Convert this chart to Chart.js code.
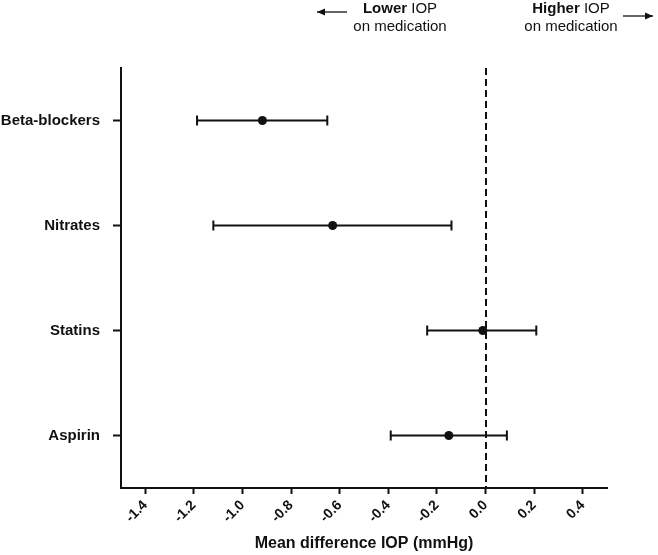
<!DOCTYPE html>
<html><head><meta charset="utf-8">
<script src="https://cdn.jsdelivr.net/npm/chart.js@4/dist/chart.umd.min.js"></script>
<style>html,body{margin:0;padding:0;background:#fff}#wrap{width:658px;height:555px;position:relative}</style>
</head><body><div id="wrap"><canvas id="c" width="658" height="555"></canvas></div>
<script>
const categories = ["Beta-blockers", "Nitrates", "Statins", "Aspirin"];
const meanDiff = [-0.918, -0.629, -0.011, -0.151];
const ciLower = [-1.187, -1.12, -0.24, -0.39];
const ciUpper = [-0.651, -0.14, 0.209, 0.088];
const xTicks = [-1.4, -1.2, -1.0, -0.8, -0.6, -0.4, -0.2, 0.0, 0.2, 0.4];

const FONT = "'Liberation Sans', Arial, sans-serif";

const errorBars = {
  id: 'errorBars',
  afterDatasetsDraw(chart) {
    const ctx = chart.ctx, xs = chart.scales.x, ys = chart.scales.y, a = chart.chartArea;
    ctx.save();
    ctx.strokeStyle = '#111'; ctx.lineWidth = 2; ctx.setLineDash([7, 4]);
    const x0 = Math.round(xs.getPixelForValue(0));
    ctx.beginPath(); ctx.moveTo(x0, a.top); ctx.lineTo(x0, a.bottom); ctx.stroke();
    ctx.setLineDash([]);
    categories.forEach((c, i) => {
      const y = ys.getPixelForValue(i + 1);
      const xl = xs.getPixelForValue(ciLower[i]), xr = xs.getPixelForValue(ciUpper[i]);
      ctx.beginPath();
      ctx.moveTo(xl, y); ctx.lineTo(xr, y);
      ctx.moveTo(xl, y - 5); ctx.lineTo(xl, y + 5);
      ctx.moveTo(xr, y - 5); ctx.lineTo(xr, y + 5);
      ctx.stroke();
      ctx.fillStyle = '#111';
      ctx.beginPath(); ctx.arc(xs.getPixelForValue(meanDiff[i]), y, 4.5, 0, Math.PI * 2); ctx.fill();
    });
    ctx.restore();
  },
  afterDraw(chart) {
    const ctx = chart.ctx;
    ctx.save();
    ctx.fillStyle = '#111'; ctx.strokeStyle = '#111'; ctx.textBaseline = 'alphabetic';
    function mixed(cx, y, bold, normal) {
      ctx.font = "bold 15px " + FONT; const w1 = ctx.measureText(bold + ' ').width;
      ctx.font = "15px " + FONT; const w2 = ctx.measureText(normal).width;
      let x = cx - (w1 + w2) / 2;
      ctx.textAlign = 'left';
      ctx.font = "bold 15px " + FONT; ctx.fillText(bold + ' ', x, y);
      ctx.font = "15px " + FONT; ctx.fillText(normal, x + w1, y);
    }
    mixed(400, 13, 'Lower', 'IOP');
    mixed(571, 13, 'Higher', 'IOP');
    ctx.font = "15px " + FONT; ctx.textAlign = 'center';
    ctx.fillText('on medication', 400, 31);
    ctx.fillText('on medication', 571, 31);
    function arrow(x1, x2, y) {
      ctx.lineWidth = 1.3;
      ctx.beginPath(); ctx.moveTo(x1, y); ctx.lineTo(x2, y); ctx.stroke();
      const d = Math.sign(x2 - x1);
      ctx.beginPath(); ctx.moveTo(x2, y); ctx.lineTo(x2 - d * 8, y - 3.5); ctx.lineTo(x2 - d * 8, y + 3.5); ctx.closePath(); ctx.fill();
    }
    arrow(347, 317, 12);
    arrow(623, 653, 16);
    ctx.restore();
  }
};

new Chart(document.getElementById('c'), {
  type: 'scatter',
  data: { datasets: [{ data: meanDiff.map((v, i) => ({ x: v, y: i + 1 })), pointRadius: 0, showLine: false }] },
  options: {
    responsive: false, animation: false,
    layout: { padding: { top: 68, right: 51, left: 0, bottom: 0 } },
    plugins: { legend: { display: false }, tooltip: { enabled: false } },
    scales: {
      x: {
        type: 'linear', min: -1.5, max: 0.5,
        afterBuildTicks: s => { s.ticks = xTicks.map(v => ({ value: v })); },
        afterFit: s => { s.height = 67; },
        grid: { display: true, drawOnChartArea: false, drawTicks: true, tickLength: 6, tickWidth: 2, tickColor: '#111', color: '#111' },
        border: { display: true, color: '#111', width: 2 },
        ticks: { color: '#111', font: { family: FONT, size: 14, weight: 'bold' }, minRotation: 45, maxRotation: 45, padding: 3,
          callback: v => v.toFixed(1) },
        title: { display: true, text: 'Mean difference IOP (mmHg)', color: '#111', font: { family: FONT, size: 16, weight: 'bold' }, padding: { top: 2, bottom: 2 } }
      },
      y: {
        type: 'linear', min: 0.5, max: 4.5, reverse: true,
        afterBuildTicks: s => { s.ticks = categories.map((c, i) => ({ value: i + 1 })); },
        afterFit: s => { s.width = 121; },
        grid: { display: true, drawOnChartArea: false, drawTicks: true, tickLength: 8, tickWidth: 2, tickColor: '#111', color: '#111' },
        border: { display: true, color: '#111', width: 2 },
        ticks: { color: '#111', font: { family: FONT, size: 15, weight: 'bold' }, padding: 13,
          callback: (v) => categories[v - 1] }
      }
    }
  },
  plugins: [errorBars]
});
</script></body></html>
